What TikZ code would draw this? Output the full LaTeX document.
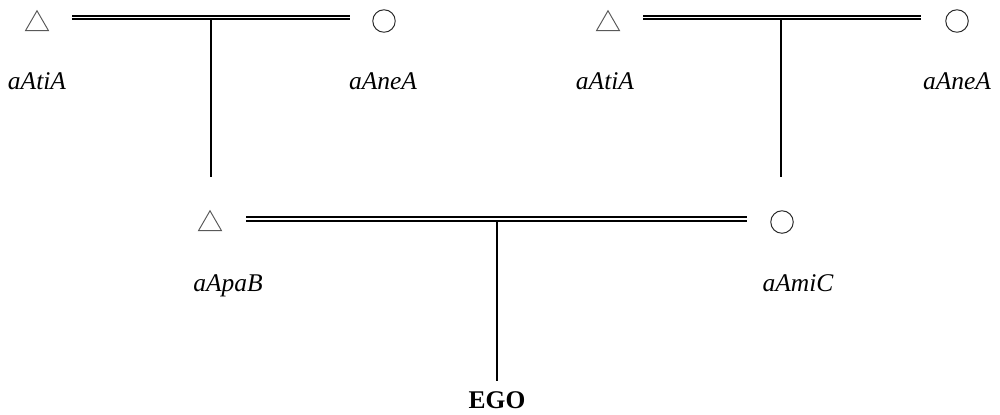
\documentclass[tikz,border=0pt]{standalone}
\usepackage{fontspec}
\setmainfont{Liberation Serif}
\usetikzlibrary{shapes.geometric}

\begin{document}
\begin{tikzpicture}[
    x=0.02cm, y=-0.02cm,
    male/.style={draw=black!65, line width=0.55pt, regular polygon, regular polygon sides=3, minimum size=0.53cm, inner sep=0pt},
    female/.style={draw=black!85, line width=0.55pt, circle, minimum size=0.45cm, inner sep=0pt},
    marriage/.style={double, double distance=1.1pt, line width=0.95pt},
    descent/.style={line width=0.95pt},
    kin/.style={anchor=base, font=\fontsize{14.5}{17}\selectfont\itshape}
]
\useasboundingbox (0,0) rectangle (1000,414);

% --- Father's parents ---
\node[male] (gfP) at (37,24) {};
\node[female] (gmP) at (384,21) {};
\coordinate (mPl) at (72,17.5);
\coordinate (mPr) at (350,17.5);
\coordinate (dPt) at (211,19);
\coordinate (dPb) at (211,177);
\draw[marriage] (mPl) -- (mPr);
\draw[descent] (dPt) -- (dPb);
\node[kin] (lgfP) at (37,89) {aAtiA};
\node[kin] (lgmP) at (383,89) {aAneA};

% --- Mother's parents ---
\node[male] (gfM) at (608,24) {};
\node[female] (gmM) at (957,21) {};
\coordinate (mMl) at (643,17.5);
\coordinate (mMr) at (921,17.5);
\coordinate (dMt) at (781,19);
\coordinate (dMb) at (781,177);
\draw[marriage] (mMl) -- (mMr);
\draw[descent] (dMt) -- (dMb);
\node[kin] (lgfM) at (605,89) {aAtiA};
\node[kin] (lgmM) at (957,89) {aAneA};

% --- Parents ---
\node[male] (fa) at (210,224) {};
\node[female] (mo) at (782,222) {};
\coordinate (mEl) at (246,219);
\coordinate (mEr) at (747,219);
\coordinate (dEt) at (497,220.5);
\draw[marriage] (mEl) -- (mEr);
\node[kin] (lfa) at (228,291) {aApaB};
\node[kin] (lmo) at (798,291) {aAmiC};

% --- Ego ---
\node[anchor=base, font=\fontsize{14.5}{17}\selectfont\bfseries] (ego) at (497,408) {EGO};
\draw[descent] (dEt) -- ([yshift=2pt]ego.north);

\end{tikzpicture}
\end{document}
